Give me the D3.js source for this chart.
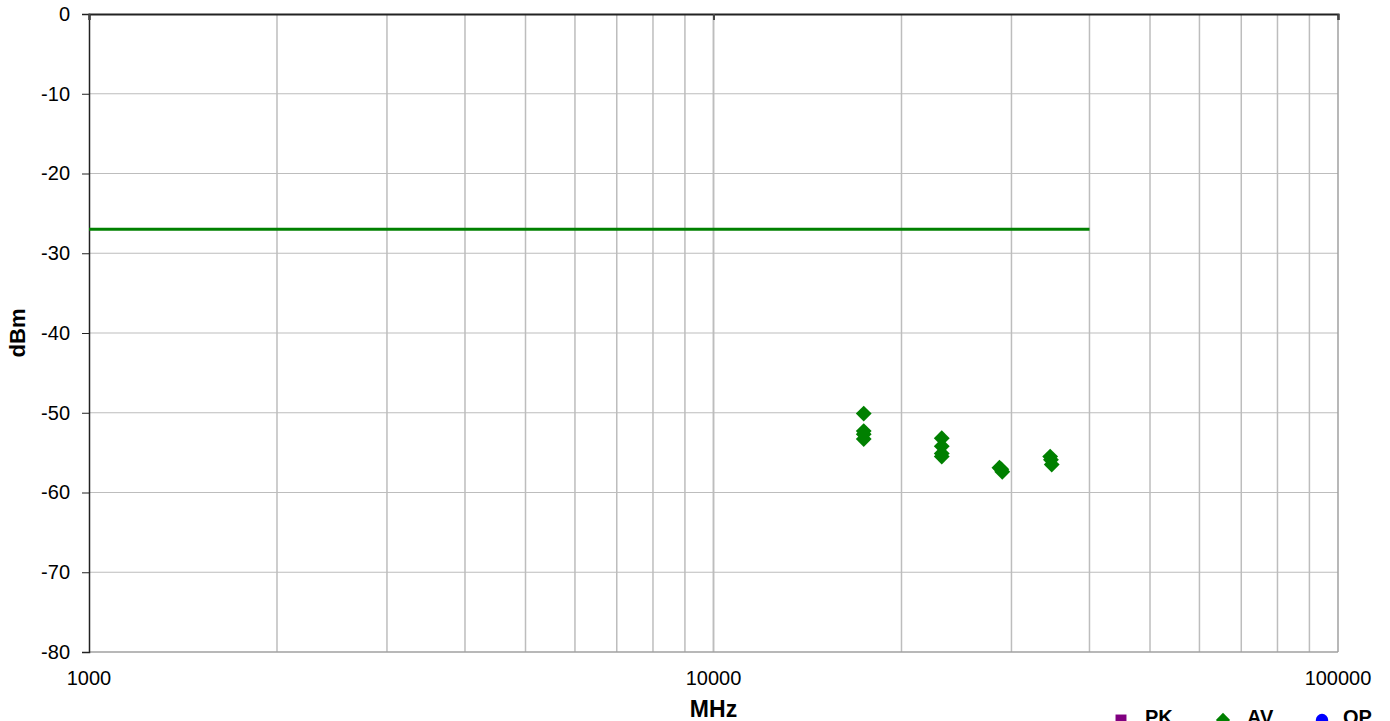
<!DOCTYPE html>
<html>
<head>
<meta charset="utf-8">
<script src="https://cdn.jsdelivr.net/npm/d3@7"></script>
<style>
  body { margin: 0; background: #fff; }
  svg { display: block; font-family: Arial, "Liberation Sans", sans-serif; }
</style>
</head>
<body>
<div id="chart"></div>
<script>
'use strict';

// limit line
var limitFreq = [1000, 40000];
var limitLevel = [-27, -27];

// AV measurements (MHz, dBm)
var avFreq = [17400, 17400, 17400, 17400, 23200, 23200, 23200, 23200, 28700, 28900, 29000, 34600, 34700, 34800];
var avLevel = [-50.1, -52.3, -52.7, -53.3, -53.2, -54.2, -55.1, -55.5, -56.9, -57.1, -57.4, -55.5, -55.9, -56.5];

var yTicks = [0, -10, -20, -30, -40, -50, -60, -70, -80];
var xTicks = [1000, 10000, 100000];
var legendNames = ['PK', 'AV', 'QP'];
var legendColors = ['#800080', '#008000', '#0000ff'];

var width = 1390, height = 721;
var margin = {top: 14, right: 52, bottom: 69, left: 89};
var font = 'Arial, "Liberation Sans", sans-serif';

var x = d3.scaleLog()
    .domain([1000, 100000])
    .range([margin.left, width - margin.right]);

var y = d3.scaleLinear()
    .domain([-80, 0])
    .range([height - margin.bottom, margin.top]);

var svg = d3.select('#chart').append('svg')
    .attr('width', width)
    .attr('height', height);

// grid
var minorX = [];
[1000, 10000].forEach(function(d) {
    for (var k = 1; k <= 10; k++) minorX.push(d * k);
});
svg.append('g').selectAll('line')
    .data(minorX.filter(function(d) { return d > 1000 && d < 100000; }))
    .enter().append('line')
    .attr('x1', function(d) { return x(d); })
    .attr('x2', function(d) { return x(d); })
    .attr('y1', y(0))
    .attr('y2', y(-80))
    .attr('stroke', '#bdbdbd')
    .attr('stroke-width', 1.5);

svg.append('g').selectAll('line')
    .data(yTicks.filter(function(d) { return d !== 0 && d !== -80; }))
    .enter().append('line')
    .attr('x1', x(1000))
    .attr('x2', x(100000))
    .attr('y1', function(d) { return y(d); })
    .attr('y2', function(d) { return y(d); })
    .attr('stroke', '#bdbdbd')
    .attr('stroke-width', 1.2);

// plot frame (bottom + right gray)
svg.append('line')
    .attr('x1', x(1000)).attr('x2', x(100000))
    .attr('y1', y(-80)).attr('y2', y(-80))
    .attr('stroke', '#a0a0a0').attr('stroke-width', 1.5);
svg.append('line')
    .attr('x1', x(100000)).attr('x2', x(100000))
    .attr('y1', y(0)).attr('y2', y(-80))
    .attr('stroke', '#a0a0a0').attr('stroke-width', 1.5);

// y axis
var yAxis = svg.append('g')
    .attr('transform', 'translate(' + margin.left + ',0)')
    .call(d3.axisLeft(y).tickValues(yTicks).tickSize(7).tickPadding(12)
        .tickFormat(function(d) { return String(d); }));
yAxis.select('.domain').attr('stroke', '#222').attr('stroke-width', 1.5);
yAxis.selectAll('.tick line').attr('stroke', '#222');
yAxis.selectAll('text').attr('font-size', 20).attr('fill', '#000').attr('font-family', font);

// x axis line sits at y = 0 (top), labels at the bottom
var xAxis = svg.append('g')
    .attr('transform', 'translate(0,' + y(0) + ')')
    .call(d3.axisBottom(x).tickValues(xTicks).tickSize(6).tickFormat(''));
xAxis.select('.domain').attr('stroke', '#222').attr('stroke-width', 2);
xAxis.selectAll('.tick line').attr('stroke', '#444').attr('stroke-width', 2);

svg.append('g').selectAll('text')
    .data(xTicks)
    .enter().append('text')
    .attr('x', function(d) { return x(d); })
    .attr('y', y(-80) + 33)
    .attr('text-anchor', 'middle')
    .attr('font-size', 20)
    .text(function(d) { return d; });

// axis titles
svg.append('text')
    .attr('x', x(10000))
    .attr('y', 717)
    .attr('text-anchor', 'middle')
    .attr('font-size', 23)
    .attr('font-weight', 'bold')
    .text('MHz');

svg.append('text')
    .attr('transform', 'translate(25,' + ((y(0) + y(-80)) / 2) + ') rotate(-90)')
    .attr('text-anchor', 'middle')
    .attr('font-size', 22)
    .attr('font-weight', 'bold')
    .text('dBm');

// limit line
var line = d3.line()
    .x(function(d) { return x(d[0]); })
    .y(function(d) { return y(d[1]); });
svg.append('path')
    .datum(d3.zip(limitFreq, limitLevel))
    .attr('d', line)
    .attr('fill', 'none')
    .attr('stroke', '#008000')
    .attr('stroke-width', 3);

// AV points
var diamond = d3.symbol().type(d3.symbolDiamond2).size(160);
svg.append('g').selectAll('path')
    .data(d3.zip(avFreq, avLevel))
    .enter().append('path')
    .attr('d', diamond)
    .attr('transform', function(d) { return 'translate(' + x(d[0]) + ',' + y(d[1]) + ')'; })
    .attr('fill', '#008000');

// legend (partly cut off at the bottom edge, as in the original)
var legendX = [1121, 1223, 1322];
var legend = svg.append('g').selectAll('g')
    .data(legendNames)
    .enter().append('g')
    .attr('transform', function(d, i) { return 'translate(' + legendX[i] + ',0)'; });
legend.append('path')
    .attr('d', function(d, i) {
        var t = [d3.symbolSquare, d3.symbolDiamond2, d3.symbolCircle][i];
        return d3.symbol().type(t).size(i === 1 ? 130 : 120)();
    })
    .attr('transform', 'translate(0,720)')
    .attr('fill', function(d, i) { return legendColors[i]; });
legend.append('text')
    .attr('x', function(d, i) { return i === 2 ? 21 : 24; })
    .attr('y', 724)
    .attr('font-size', 20)
    .attr('font-weight', 'bold')
    .text(function(d) { return d; });
</script>
</body>
</html>
